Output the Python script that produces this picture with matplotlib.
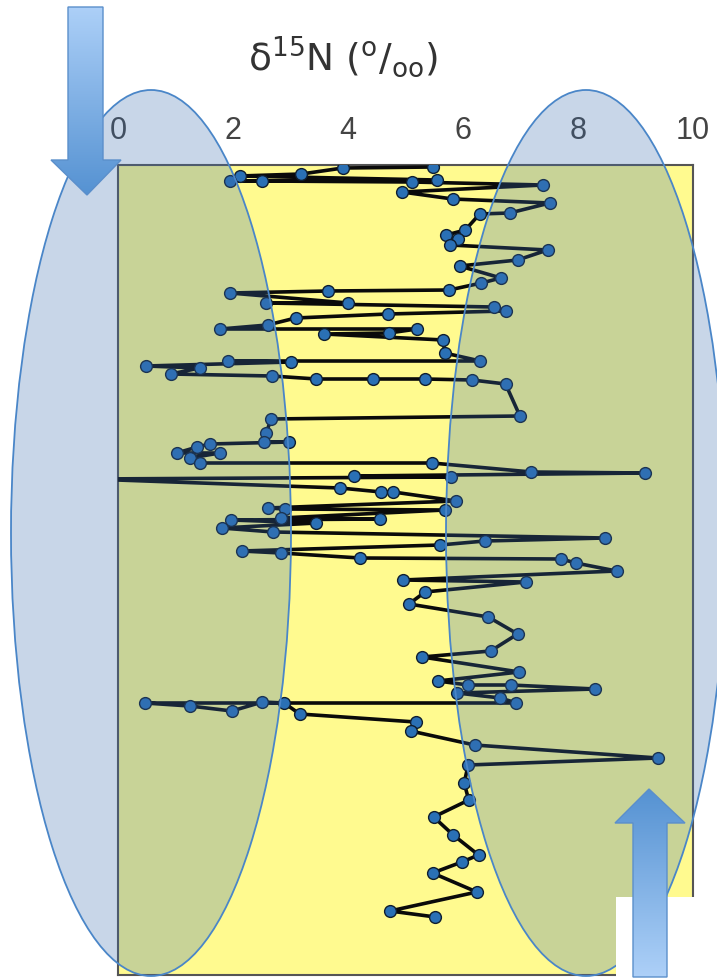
import numpy as np
import matplotlib
matplotlib.use("Agg")
import matplotlib.pyplot as plt
from matplotlib.patches import Ellipse, Polygon, Rectangle
from matplotlib.colors import LinearSegmentedColormap

plt.rcParams['font.family'] = ['Liberation Sans', 'DejaVu Sans']

# ---------------- data ----------------
# depth (arbitrary units, 0 = top of core) and d15N (per mil)
depth = [0.2, 0.3, 0.9, 1.1, 1.5, 1.6, 1.6, 1.7, 2.0, 2.7,
         3.4, 3.8, 4.8, 4.9, 6.5, 7.0, 7.4, 8.0, 8.5, 9.5,
         10.1, 11.3, 11.8, 12.5, 12.6, 12.8, 13.8, 13.8, 14.2, 14.6,
         14.9, 15.3, 16.0, 16.4, 16.4, 16.8, 16.9, 17.5, 18.8, 19.6,
         19.6, 19.7, 20.1, 20.3, 20.9, 21.1, 21.4, 21.4, 21.4, 21.5,
         21.9, 25.1, 25.4, 26.8, 27.7, 27.7, 27.9, 28.2, 28.8, 28.8,
         29.3, 29.8, 29.8, 30.7, 30.8, 31.1, 31.2, 31.4, 32.3, 32.7,
         32.7, 33.6, 34.3, 34.4, 34.5, 35.3, 35.4, 35.5, 35.8, 36.3,
         36.7, 37.3, 37.6, 38.0, 38.6, 38.8, 39.3, 39.4, 39.8, 40.6,
         41.5, 41.7, 42.7, 43.9, 45.2, 46.9, 48.6, 49.2, 50.7, 51.6,
         52.0, 52.0, 52.4, 52.8, 53.3, 53.8, 53.8, 54.1, 54.6, 53.7,
         53.8, 54.9, 55.7, 56.6, 58.0, 59.3, 60.0, 61.8, 63.5, 65.2,
         67.0, 69.0, 69.7, 70.8, 72.7, 74.6, 75.2]
d15n = [5.48, 3.91, 3.19, 2.12, 5.54, 1.94, 2.51, 5.11, 7.39, 4.94,
        5.82, 7.51, 6.81, 6.29, 6.04, 5.71, 5.91, 5.78, 7.47, 6.95,
        5.94, 6.66, 6.32, 5.76, 3.65, 1.95, 4.00, 2.58, 6.54, 6.74,
        4.70, 3.09, 2.60, 1.78, 5.20, 4.71, 3.59, 5.66, 5.68, 6.30,
        1.92, 3.01, 0.49, 1.42, 0.92, 2.68, 3.45, 4.43, 5.34, 6.16,
        6.74, 6.99, 2.66, 2.58, 2.54, 2.98, 1.60, 1.38, 1.02, 1.77,
        1.25, 1.42, 5.46, 7.19, 9.17, 4.11, 5.79, -0.50, 3.86, 4.58,
        4.79, 5.88, 2.60, 2.91, 5.68, 2.83, 4.55, 1.97, 3.45, 1.80,
        2.70, 8.47, 6.38, 5.60, 2.15, 2.83, 4.21, 7.71, 7.96, 8.67,
        4.96, 7.09, 5.34, 5.06, 6.44, 6.95, 6.48, 5.29, 6.98, 5.56,
        6.09, 6.83, 8.30, 5.90, 6.65, 6.93, 0.47, 1.25, 1.98, 2.51,
        2.89, 3.16, 5.18, 5.09, 6.20, 9.39, 6.09, 6.02, 6.10, 5.49,
        5.83, 6.27, 5.98, 5.47, 6.24, 4.73, 5.52]
xticks = [0, 2, 4, 6, 8, 10]
xtick_labels = ['0', '2', '4', '6', '8', '10']
title = r'$\mathregular{δ^{15}N\ (^{o}/_{oo})}$'

W, H = 717, 980
fig = plt.figure(figsize=(W / 100, H / 100), dpi=100)
fig.patch.set_facecolor('white')

# ---------------- main axes ----------------
ax = fig.add_axes([118 / W, 1 - 975 / H, (693 - 118) / W, (975 - 165) / H])
ax.set_facecolor('#FFFA8F')
ax.plot(d15n, depth, color='#0A0A0A', lw=2.6, marker='o', ms=8.5,
        mfc='#2A70B5', mec='#0F1E30', mew=1.0, zorder=3)
ax.set_xlim(0, 10)
ax.set_ylim(81, 0)
ax.xaxis.tick_top()
ax.set_xticks(xticks)
ax.set_xticklabels(xtick_labels)
ax.tick_params(axis='x', length=0, pad=14, labelsize=22, labelcolor='#444444')
ax.set_yticks([])
for s in ax.spines.values():
    s.set_color('#555555')
    s.set_linewidth(1.5)

fig.text(343 / W, 1 - 57 / H, title, ha='center', va='center',
         fontsize=27, color='#333333', family=['DejaVu Sans'])

# ---------------- overlay (decorations in pixel coordinates) ----------------
ov = fig.add_axes([0, 0, 1, 1], zorder=10)
ov.set_facecolor('none')
ov.set_axis_off()

ell_fc = (60 / 255, 110 / 255, 175 / 255, 0.28)
for cx in (151, 586):
    ov.add_patch(Ellipse((cx, 533), 280, 886, facecolor=ell_fc,
                         edgecolor='#4A86C8', lw=1.3, zorder=2))

ov.add_patch(Rectangle((616, 897), 110, 90, facecolor='white',
                       edgecolor='none', zorder=3))


def grad_arrow(verts, top_color, bottom_color, z):
    poly = Polygon(verts, closed=True, facecolor='none',
                   edgecolor='#5B8FCB', lw=1.0, zorder=z + 0.1)
    ov.add_patch(poly)
    xs = [v[0] for v in verts]
    ys = [v[1] for v in verts]
    cmap = LinearSegmentedColormap.from_list('g', [top_color, bottom_color])
    grad = np.linspace(0, 1, 256).reshape(-1, 1)
    im = ov.imshow(grad, extent=[min(xs), max(xs), max(ys), min(ys)],
                   cmap=cmap, aspect='auto', origin='upper', zorder=z)
    im.set_clip_path(poly)


light, dark = '#ADD0F8', '#5592D2'
grad_arrow([(68, 7), (103, 7), (103, 160), (121, 160), (87, 195),
            (51, 160), (68, 160)], light, dark, 4)
grad_arrow([(649, 789), (685, 823), (667, 823), (667, 977), (633, 977),
            (633, 823), (615, 823)], dark, light, 4)

ov.set_xlim(0, W)
ov.set_ylim(H, 0)

fig.savefig('out.png', dpi=100)
